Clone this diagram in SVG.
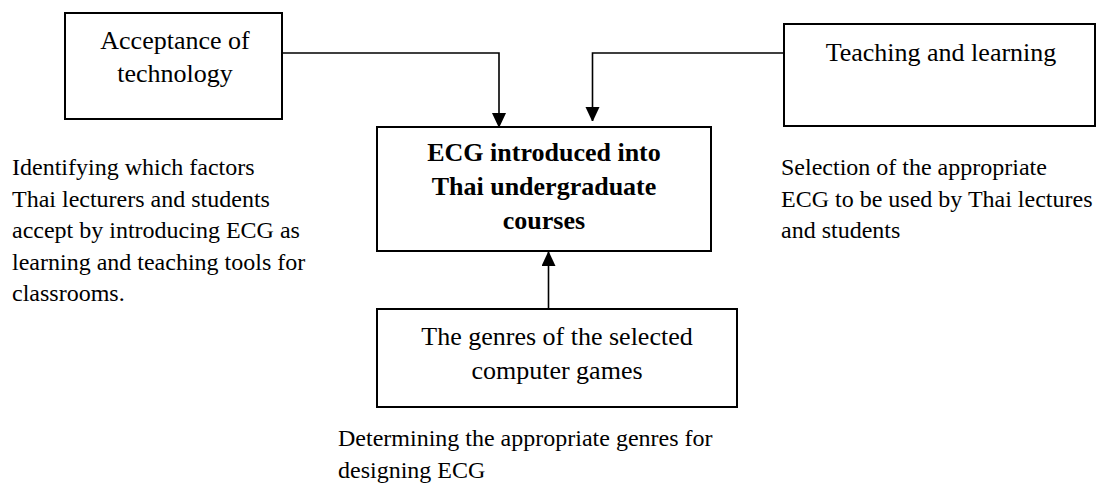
<svg xmlns="http://www.w3.org/2000/svg" width="1097" height="485" viewBox="0 0 1097 485">
<style>
.box{fill:#fff;stroke:#000;stroke-width:2}
.t{font-family:"Liberation Serif","Times New Roman",serif;font-size:26px;fill:#000}
.s{font-family:"Liberation Serif","Times New Roman",serif;font-size:24px;fill:#000}
.b{font-weight:bold}
.c{text-anchor:middle}
.ln{fill:none;stroke:#000;stroke-width:1.6}
</style>
<defs>
<marker id="ah" markerUnits="userSpaceOnUse" markerWidth="14" markerHeight="16" viewBox="0 0 14 16" refX="14" refY="7" orient="auto">
<path d="M0,0 L15,7 L0,14 Z" fill="#000"/>
</marker>
</defs>
<rect width="1097" height="485" fill="#fff"/>
<g id="connectors">
<path class="ln" d="M282,53 H499 V127" marker-end="url(#ah)"/>
<path class="ln" d="M784,53 H592.5 V121" marker-end="url(#ah)"/>
<path class="ln" d="M548.5,309 V252" marker-end="url(#ah)"/>
</g>
<g id="acceptance">
<rect class="box" x="65" y="13" width="217" height="106"/>
<text class="t c" x="175" y="49">Acceptance of</text>
<text class="t c" x="175" y="82">technology</text>
</g>
<g id="teaching">
<rect class="box" x="784" y="24" width="311" height="102"/>
<text class="t c" x="941" y="61">Teaching and learning</text>
</g>
<g id="ecg">
<rect class="box" x="377" y="127" width="334" height="124"/>
<text class="t b c" x="544" y="161">ECG introduced into</text>
<text class="t b c" x="544" y="195">Thai undergraduate</text>
<text class="t b c" x="544" y="229">courses</text>
</g>
<g id="genres">
<rect class="box" x="377" y="309" width="360" height="98"/>
<text class="t c" x="557" y="345">The genres of the selected</text>
<text class="t c" x="557" y="379">computer games</text>
</g>
<g id="note-left">
<text class="s" x="12" y="175">Identifying which factors</text>
<text class="s" x="12" y="206.6">Thai lecturers and students</text>
<text class="s" x="12" y="238.2">accept by introducing ECG as</text>
<text class="s" x="12" y="269.8">learning and teaching tools for</text>
<text class="s" x="12" y="301.4">classrooms.</text>
</g>
<g id="note-right">
<text class="s" x="781" y="175">Selection of the appropriate</text>
<text class="s" x="781" y="207">ECG to be used by Thai lectures</text>
<text class="s" x="781" y="238">and students</text>
</g>
<g id="note-bottom">
<text class="s" x="338" y="446">Determining the appropriate genres for</text>
<text class="s" x="338" y="478">designing ECG</text>
</g>
</svg>
